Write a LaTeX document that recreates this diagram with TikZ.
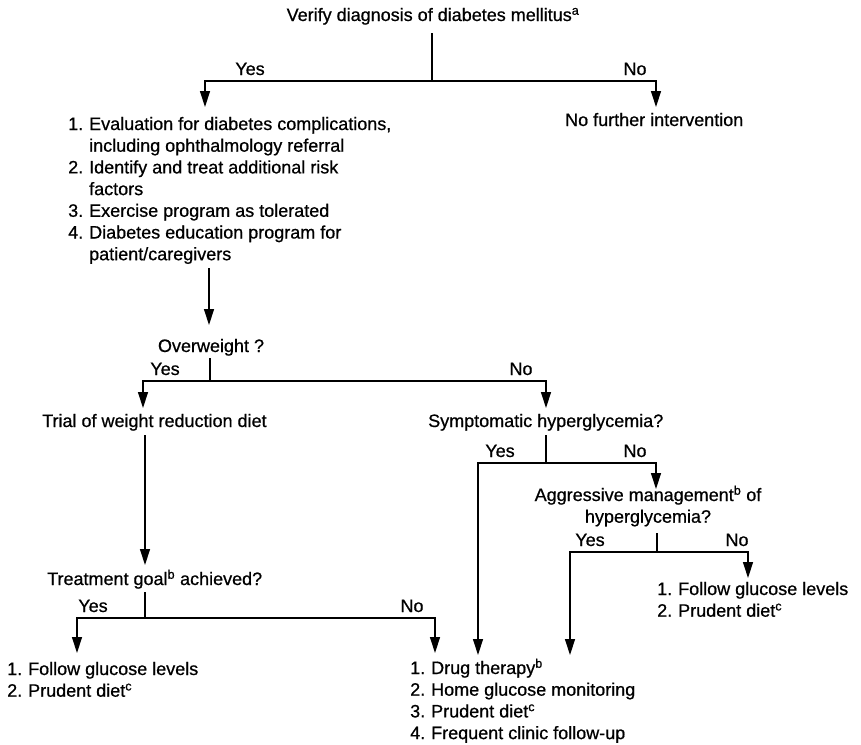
\documentclass[tikz,border=0pt]{standalone}
\usepackage{fontspec}
\setmainfont{Liberation Sans}[FakeBold=0.7]
\usetikzlibrary{arrows.meta}
\newcommand{\itm}[1]{\makebox[21pt][l]{#1}}
\begin{document}
\begin{tikzpicture}[x=1pt,y=-1pt,
  txt/.style={inner sep=0pt, font=\fontsize{18}{21.7}\selectfont},
  lst/.style={txt, anchor=base west},
  lbl/.style={txt, anchor=base},
  ln/.style={line width=1.3pt},
  arr/.style={line width=1.3pt, -{Triangle[width=10pt,length=16pt]}}]
\useasboundingbox (0,0) rectangle (861,744);

% texts
\node[lbl] (title) at (433,21) {Verify diagnosis of diabetes mellitus\textsuperscript{a}};
\node[lbl] (yes1) at (250,75) {Yes};
\node[lbl] (no1) at (635,75) {No};
\node[lst] (nofurther) at (565,126) {No further intervention};
\node[lst] (eval) at (68,130) {\begin{tabular}[t]{@{}l@{}}
\itm{1.}Evaluation for diabetes complications,\\
\itm{}including ophthalmology referral\\
\itm{2.}Identify and treat additional risk\\
\itm{}factors\\
\itm{3.}Exercise program as tolerated\\
\itm{4.}Diabetes education program for\\
\itm{}patient/caregivers\end{tabular}};
\node[lbl] (over) at (211,352) {Overweight ?};
\node[lbl] (yes2) at (165,375) {Yes};
\node[lbl] (no2) at (521,375) {No};
\node[lst] (trial) at (42,427) {Trial of weight reduction diet};
\node[lst] (sym) at (428,427) {Symptomatic hyperglycemia?};
\node[lbl] (yes3) at (500,457) {Yes};
\node[lbl] (no3) at (635,457) {No};
\node[lbl] (agg) at (648,501) {\begin{tabular}[t]{@{}c@{}}Aggressive management\textsuperscript{b} of\\hyperglycemia?\end{tabular}};
\node[lbl] (yes4) at (590,546) {Yes};
\node[lbl] (no4) at (737,546) {No};
\node[lst] (follow2) at (657,595) {\begin{tabular}[t]{@{}l@{}}
\itm{1.}Follow glucose levels\\
\itm{2.}Prudent diet\textsuperscript{c}\end{tabular}};
\node[lst] (treat) at (47,585) {Treatment goal\textsuperscript{b} achieved?};
\node[lbl] (yes5) at (93,612) {Yes};
\node[lbl] (no5) at (412,612) {No};
\node[lst] (follow1) at (7,675) {\begin{tabular}[t]{@{}l@{}}
\itm{1.}Follow glucose levels\\
\itm{2.}Prudent diet\textsuperscript{c}\end{tabular}};
\node[lst] (drug) at (410,674) {\begin{tabular}[t]{@{}l@{}}
\itm{1.}Drug therapy\textsuperscript{b}\\
\itm{2.}Home glucose monitoring\\
\itm{3.}Prudent diet\textsuperscript{c}\\
\itm{4.}Frequent clinic follow-up\end{tabular}};

% junction coordinates
\coordinate (a0) at (432,33);  \coordinate (a1) at (432,81);
\coordinate (a2) at (205,107); \coordinate (a3) at (656,107);
\coordinate (b0) at (209,268); \coordinate (b1) at (209,325);
\coordinate (c0) at (210,358); \coordinate (c1) at (210,381);
\coordinate (c2) at (143,408); \coordinate (c3) at (546,408);
\coordinate (d0) at (546,435); \coordinate (d1) at (546,463);
\coordinate (d2) at (656,489); \coordinate (d3) at (478,655);
\coordinate (e0) at (657,533); \coordinate (e1) at (657,552);
\coordinate (e2) at (748,578); \coordinate (e3) at (570,655);
\coordinate (f0) at (145,435); \coordinate (f1) at (145,565);
\coordinate (g0) at (145,592); \coordinate (g1) at (145,618);
\coordinate (g2) at (77,653);  \coordinate (g3) at (435,653);

% connectors
\draw[ln] (a0) -- (a1);
\draw[arr] (a1) -| (a2);
\draw[arr] (a1) -| (a3);
\draw[arr] (b0) -- (b1);
\draw[ln] (c0) -- (c1);
\draw[arr] (c1) -| (c2);
\draw[arr] (c1) -| (c3);
\draw[ln] (d0) -- (d1);
\draw[arr] (d1) -| (d2);
\draw[arr] (d1) -| (d3);
\draw[ln] (e0) -- (e1);
\draw[arr] (e1) -| (e2);
\draw[arr] (e1) -| (e3);
\draw[arr] (f0) -- (f1);
\draw[ln] (g0) -- (g1);
\draw[arr] (g1) -| (g2);
\draw[arr] (g1) -| (g3);
\end{tikzpicture}
\end{document}
